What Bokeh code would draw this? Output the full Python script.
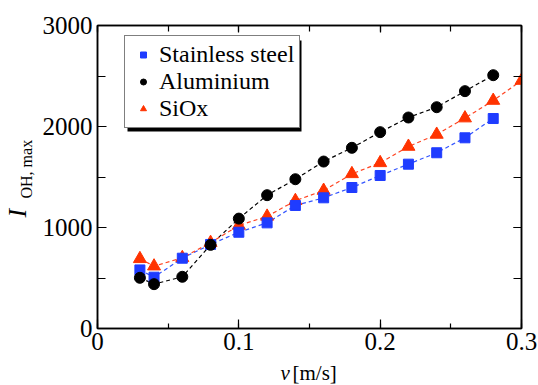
import numpy as np
from bokeh.plotting import figure
from bokeh.models import (Range1d, LinearAxis, Legend, LegendItem, Label,
                          BoxAnnotation, FixedTicker)
from bokeh.embed import file_html
from bokeh.resources import INLINE

# ---------------- data ----------------
v_steel = [0.03, 0.04, 0.06, 0.08, 0.10, 0.12, 0.14, 0.16, 0.18, 0.20, 0.22, 0.24, 0.26, 0.28]
i_steel = [580, 508, 696, 832, 953, 1046, 1218, 1294, 1396, 1515, 1627, 1740, 1888, 2079]

v_alu = [0.03, 0.04, 0.06, 0.08, 0.10, 0.12, 0.14, 0.16, 0.18, 0.20, 0.22, 0.24, 0.26, 0.28]
i_alu = [502, 439, 512, 828, 1088, 1320, 1478, 1653, 1789, 1944, 2089, 2191, 2350, 2508]

v_siox = [0.03, 0.04, 0.06, 0.08, 0.10, 0.12, 0.14, 0.16, 0.18, 0.20, 0.22, 0.24, 0.26, 0.28, 0.30]
i_siox = [690, 617, 700, 850, 1020, 1110, 1265, 1366, 1531, 1640, 1802, 1921, 2083, 2257, 2455]

labels = ["Stainless steel", "Aluminium", "SiOx"]
x_ticks = [0, 0.1, 0.2, 0.3]
x_minor = [0, 0.05, 0.1, 0.15, 0.2, 0.25, 0.3]
y_ticks = [0, 1000, 2000, 3000]
y_minor = [0, 500, 1000, 1500, 2000, 2500, 3000]

FONT = "Liberation Serif"
W, H = 538, 385
FL, FR, FT, FB = 97, 521, 25, 328   # frame edges in px
X0, X1, Y0, Y1 = 0.0, 0.3, 0.0, 3000.0

def dx(px):
    return X0 + (px - FL) * (X1 - X0) / (FR - FL)

def dy(py):
    return Y0 + (FB - py) * (Y1 - Y0) / (FB - FT)

p = figure(width=W, height=H, output_backend="svg", toolbar_location=None,
           x_range=Range1d(X0, X1), y_range=Range1d(Y0, Y1),
           min_border_left=FL, min_border_right=W - FR,
           min_border_top=FT, min_border_bottom=H - FB,
           x_axis_type=None, y_axis_type=None)
p.grid.visible = False
p.outline_line_color = "black"
p.outline_line_width = 1.5
p.background_fill_color = "white"
p.border_fill_color = "white"

def style_axis(ax, show_labels, tin, minin, standoff=5):
    ax.axis_line_color = "black"
    ax.axis_line_width = 1.5
    ax.major_tick_out = 0
    ax.major_tick_in = tin
    ax.minor_tick_out = 0
    ax.minor_tick_in = minin
    ax.major_tick_line_width = 1.2
    ax.minor_tick_line_width = 1.2
    ax.major_label_text_font = FONT
    ax.major_label_text_font_size = "25px"
    ax.major_label_text_color = "black"
    if show_labels:
        ax.major_label_standoff = standoff
    else:
        ax.major_label_text_color = None
        ax.major_label_standoff = 0

xticker = FixedTicker(ticks=x_ticks, minor_ticks=x_minor)
yticker = FixedTicker(ticks=y_ticks, minor_ticks=y_minor)

xb = LinearAxis(ticker=xticker); style_axis(xb, True, 9, 5, standoff=4)
xb.major_label_overrides = {0: "0"}
xt = LinearAxis(ticker=xticker); style_axis(xt, False, 7, 6)
yl = LinearAxis(ticker=yticker); style_axis(yl, True, 9, 8)
yr = LinearAxis(ticker=yticker); style_axis(yr, False, 8, 8)
p.add_layout(xb, "below")
p.add_layout(xt, "above")
p.add_layout(yl, "left")
p.add_layout(yr, "right")

BLUE = "#1f3cff"
RED = "#ff3300"

p.line(v_steel, i_steel, line_color="#3355ff", line_dash="4 3", line_width=1.2)
p.line(v_alu, i_alu, line_color="black", line_dash="4 3", line_width=1.2)
p.line(v_siox, i_siox, line_color="#ff4422", line_dash="4 3", line_width=1.2)

r_siox = p.scatter(v_siox, i_siox, marker="triangle", size=13, fill_color=RED, line_color=RED)
r_steel = p.scatter(v_steel, i_steel, marker="square", size=10, fill_color=BLUE, line_color=BLUE)
r_alu = p.scatter(v_alu, i_alu, marker="circle", size=11, fill_color="black", line_color="black")

# legend (box about 124..298 x 37..128 px) with a drop shadow
shadow = BoxAnnotation(left=dx(127), right=dx(301), top=dy(40), bottom=dy(131),
                       fill_color="black", fill_alpha=1.0, line_color=None, level="underlay")
p.add_layout(shadow)

legend = Legend(items=[LegendItem(label=labels[0], renderers=[r_steel]),
                       LegendItem(label=labels[1], renderers=[r_alu]),
                       LegendItem(label=labels[2], renderers=[r_siox])],
                location=(124 - FL, FB - 128), level="underlay",
                label_text_font=FONT, label_text_font_size="24px",
                label_text_color="black",
                glyph_width=26, glyph_height=15, label_height=27,
                label_standoff=3, spacing=0, padding=5, margin=0,
                border_line_color="black", border_line_width=1.5,
                background_fill_color="white", background_fill_alpha=1.0)
p.add_layout(legend)

# outer labels live in side panels (not clipped to the frame); spread over the
# panels so that they fit in the border space
p.add_layout(Label(x=dx(17), y=dy(217), text="I", text_font=FONT,
                   text_font_style="italic", text_font_size="26px", angle=np.pi / 2,
                   text_color="black", text_align="left", text_baseline="alphabetic"), "above")
p.add_layout(Label(x=dx(26), y=dy(198), text="OH, max", text_font=FONT,
                   text_font_size="16px", angle=np.pi / 2, text_color="black",
                   text_align="left", text_baseline="alphabetic"), "left")
p.add_layout(Label(x=dx(280), y=dy(372), text="v", text_font=FONT,
                   text_font_style="italic", text_font_size="21px", text_color="black",
                   text_align="left", text_baseline="alphabetic"), "right")
p.add_layout(Label(x=dx(292), y=dy(372), text="[m/s]", text_font=FONT,
                   text_font_size="21px", text_color="black",
                   text_align="left", text_baseline="alphabetic"), "below")

open("out.html", "w").write(file_html(p, INLINE))
